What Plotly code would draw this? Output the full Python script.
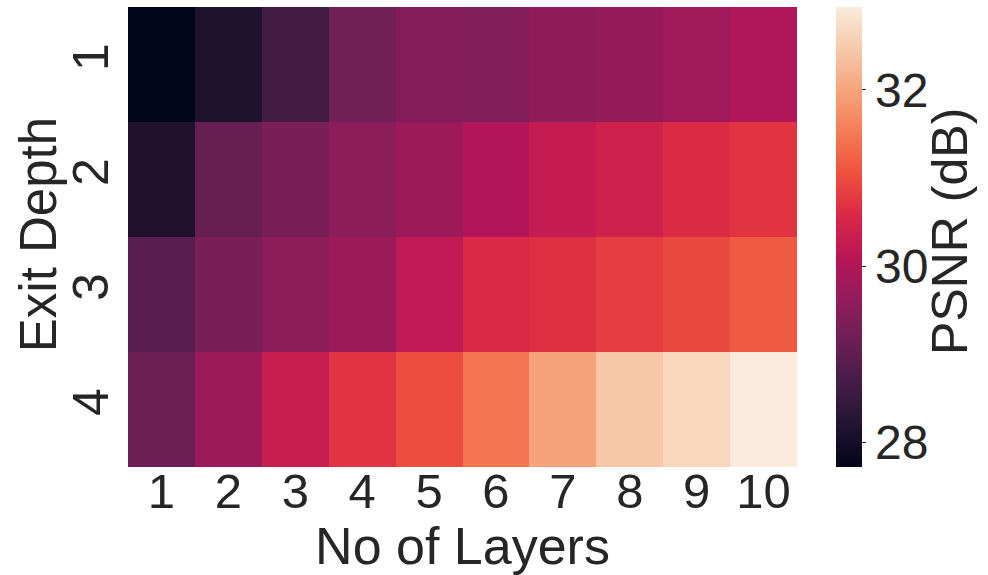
import plotly.graph_objects as go

# PSNR (dB) for each exit depth (rows) and number of layers (columns)
layers = ["1", "2", "3", "4", "5", "6", "7", "8", "9", "10"]
exit_depths = ["1", "2", "3", "4"]
psnr_depth1 = [27.72, 28.15, 28.64, 29.21, 29.43, 29.41, 29.57, 29.67, 29.79, 29.99]
psnr_depth2 = [28.16, 29.09, 29.33, 29.52, 29.76, 30.03, 30.25, 30.40, 30.61, 30.70]
psnr_depth3 = [28.94, 29.33, 29.52, 29.76, 30.19, 30.58, 30.67, 30.82, 30.96, 31.15]
psnr_depth4 = [29.16, 29.76, 30.30, 30.70, 31.01, 31.45, 31.97, 32.44, 32.66, 32.94]
cbar_ticks = [28, 30, 32]

# seaborn "rocket" palette approximation (sampled stops)
rocket_stops = [
    (0.0, "#03051a"),
    (1 / 11, "#221331"),
    (1 / 7, "#35193e"),
    (2 / 11, "#451c47"),
    (2 / 7, "#701f57"),
    (4 / 11, "#921c5b"),
    (3 / 7, "#ad1759"),
    (5 / 11, "#b91657"),
    (6 / 11, "#d92847"),
    (4 / 7, "#e13342"),
    (7 / 11, "#ed503e"),
    (5 / 7, "#f37651"),
    (8 / 11, "#f47d57"),
    (9 / 11, "#f6a47c"),
    (6 / 7, "#f6b48f"),
    (10 / 11, "#f7c9aa"),
    (1.0, "#faebdd"),
]
rocket = [[p, c] for p, c in rocket_stops]

font_family = "Liberation Sans, Arial, sans-serif"
text_color = "#262626"

fig = go.Figure(
    go.Heatmap(
        z=[psnr_depth1, psnr_depth2, psnr_depth3, psnr_depth4],
        x=layers,
        y=exit_depths,
        colorscale=rocket,
        zmin=27.72,
        zmax=32.94,
        colorbar=dict(
            tickvals=cbar_ticks,
            ticktext=[str(t) for t in cbar_ticks],
            tickfont=dict(size=48, family=font_family, color=text_color),
            ticks="outside",
            ticklen=4,
            tickcolor=text_color,
            thickness=26,
            len=1.0,
            lenmode="fraction",
            x=1.058,
            xanchor="left",
            y=0.5,
            yanchor="middle",
            outlinewidth=0,
            xpad=0,
            ypad=0,
        ),
        hoverongaps=False,
    )
)

# colour bar caption, rotated along the bar
fig.add_annotation(
    text="PSNR (dB)",
    textangle=-90,
    xref="paper", yref="paper",
    x=1.2287, y=0.511,
    xanchor="center", yanchor="middle",
    showarrow=False,
    font=dict(size=50, family=font_family, color=text_color),
)

# y axis caption
fig.add_annotation(
    text="Exit Depth",
    textangle=-90,
    xref="paper", yref="paper",
    x=-0.1345, y=0.504,
    xanchor="center", yanchor="middle",
    showarrow=False,
    font=dict(size=51, family=font_family, color=text_color),
)

fig.update_layout(
    width=988,
    height=575,
    margin=dict(l=128, r=191, t=7, b=108, autoexpand=False),
    paper_bgcolor="white",
    plot_bgcolor="white",
    font=dict(family=font_family, color=text_color),
    xaxis=dict(
        title=dict(text="No of Layers", font=dict(size=52), standoff=2),
        tickfont=dict(size=49),
        ticks="",
        showgrid=False,
        zeroline=False,
        showline=False,
        automargin=False,
        ticklabelstandoff=-9,
    ),
    yaxis=dict(
        tickfont=dict(size=50),
        tickangle=-90,
        ticks="",
        showgrid=False,
        zeroline=False,
        showline=False,
        automargin=False,
        autorange="reversed",
        ticklabelstandoff=9,
    ),
)

fig.write_html("out.html")
